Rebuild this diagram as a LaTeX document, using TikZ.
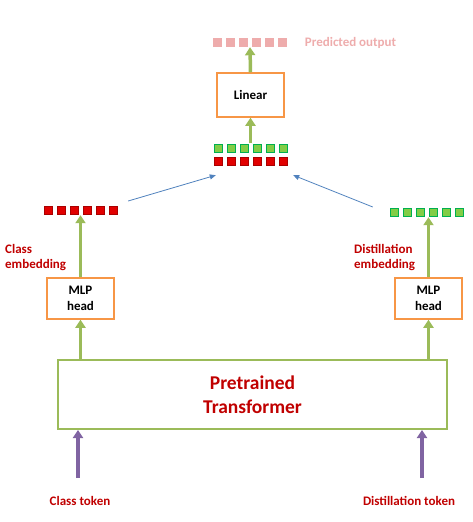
\documentclass[tikz,border=0pt]{standalone}
\usepackage{fontspec}
\setmainfont{Carlito}
\usetikzlibrary{positioning,arrows.meta}

\definecolor{ogreen}{RGB}{155,187,89}
\definecolor{oorange}{RGB}{247,150,70}
\definecolor{dred}{RGB}{192,0,0}
\definecolor{vpurple}{RGB}{128,100,162}
\definecolor{sblue}{RGB}{79,129,189}
\definecolor{lpink}{RGB}{238,172,172}
\definecolor{sqgreen}{RGB}{0,176,80}
\definecolor{sqlgreen}{RGB}{130,205,70}
\definecolor{sqred}{RGB}{225,0,0}
\definecolor{sqdred}{RGB}{170,0,0}

% a row of six token squares: name, x, y, square style
\newcommand{\tokenrow}[4]{%
  \node[rowbox] (#1) at (#2,#3) {};
  \foreach \i in {1,...,6}
    \node[#4] (#1-\i) at ([xshift={(\i-3.5)*13pt}]#1.center) {};
}

\begin{document}
\begin{tikzpicture}[x=1pt,y=-1pt,
  box/.style={draw=oorange,line width=1.5pt,fill=white,align=center,
    font=\fontsize{13}{16.5}\selectfont\bfseries,inner sep=0pt},
  lbl/.style={text=dred,font=\fontsize{13}{15.5}\selectfont\bfseries,align=left,inner sep=1pt},
  flow/.style={draw=ogreen,line width=3.5pt,-{Triangle[length=8pt,width=10pt]}},
  tok/.style={draw=vpurple,line width=3.5pt,-{Triangle[length=8pt,width=10pt]}},
  merge/.style={draw=sblue,line width=0.8pt,-{Triangle[length=6pt,width=5pt]}},
  rowbox/.style={minimum width=73pt,minimum height=9pt,inner sep=0pt},
  sq/.style={minimum size=8pt,inner sep=0pt,line width=1pt},
  redsq/.style={sq,fill=sqred,draw=sqdred},
  greensq/.style={sq,fill=sqlgreen,draw=sqgreen},
  pinksq/.style={sq,fill=lpink,minimum height=9pt,minimum width=9pt}]
   \useasboundingbox (0,0) rectangle (472,522);

   \node[draw=ogreen,line width=2pt,minimum width=389pt,minimum height=69pt,align=center,
     text=dred,font=\fontsize{19.5}{24}\selectfont\bfseries] (trans) at (252.5,394.5) {Pretrained\\Transformer};
   \node[box,minimum width=67pt,minimum height=41pt] (mlpL) at (80.5,298.5) {MLP\\head};
   \node[box,minimum width=67pt,minimum height=41pt] (mlpR) at (428.5,298.5) {MLP\\head};
   \node[box,minimum width=67pt,minimum height=44pt] (linear) at (250.5,95) {Linear};

   \tokenrow{clsemb}{80.5}{210.5}{redsq}
   \tokenrow{dstemb}{426.5}{212.5}{greensq}
   \tokenrow{mixg}{250.5}{148}{greensq}
   \tokenrow{mixr}{250.5}{161.5}{redsq}
   \tokenrow{pred}{250}{42.5}{pinksq}

   \node[lbl,anchor=west] (clslbl) at (4,257.5) {Class\\embedding};
   \node[lbl,anchor=west] (dstlbl) at (353,257.5) {Distillation\\embedding};
   \node[lbl,text=lpink] (predlbl) [right=17pt of pred] {Predicted output};
   \node[lbl] (clstok) at (80,501) {Class token};
   \node[lbl] (dsttok) at (409,501) {Distillation token};
   \coordinate (clsin) at (78,478);
   \coordinate (dstin) at (422,478);

   \draw[tok] (clsin) -- (clsin |- trans.south);
   \draw[tok] (dstin) -- (dstin |- trans.south);
   \draw[flow] (mlpL |- trans.north) -- (mlpL.south);
   \draw[flow] (mlpR |- trans.north) -- (mlpR.south);
   \draw[flow] (mlpL.north) -- (clsemb.south);
   \draw[flow] (mlpR.north) -- (mlpR.north |- dstemb.south);
   \draw[flow] (mixg.north) -- (linear.south);
   \draw[flow] (linear.north) -- (pred.south);
   \draw[merge] ([xshift=11pt,yshift=9.5pt]clsemb.east) -- ([xshift=2pt,yshift=-9pt]mixr.south west);
   \draw[merge] ([xshift=-17pt,yshift=5.5pt]dstemb.west) -- ([xshift=6pt,yshift=-9pt]mixr.south east);
\end{tikzpicture}
\end{document}
